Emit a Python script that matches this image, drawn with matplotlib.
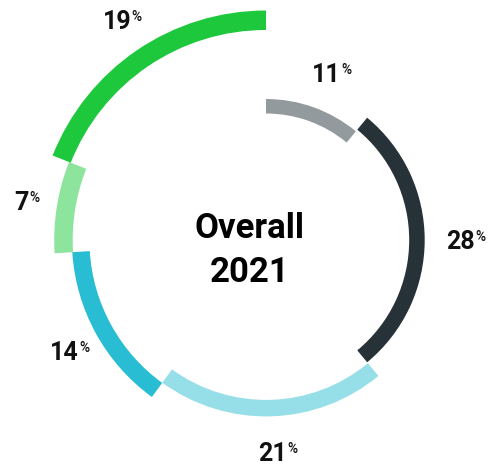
import numpy as np
import matplotlib.pyplot as plt
from matplotlib.patches import Wedge

# shares per segment, clockwise from 12 o'clock
values = [11, 28, 21, 14, 7, 19]
labels = ['11', '28', '21', '14', '7', '19']
colors = ['#939a9e', '#263238', '#96dfe8', '#29bdd3', '#8de49c', '#1ec83c']
center_text = ['Overall', '2021']

plt.rcParams['font.family'] = ['Roboto', 'DejaVu Sans']

fig = plt.figure(figsize=(4.92, 4.70), dpi=100)
ax = fig.add_axes([0, 0, 1, 1])
ax.set_xlim(0, 492)
ax.set_ylim(0, 470)
ax.axis('off')

cx, cy = 266, 230
total = sum(values)
ends = np.cumsum(values) / total * 360
starts = ends - np.array(values) / total * 360

for i, (lab, col) in enumerate(zip(labels, colors)):
    # each segment steps outwards a bit (spiral look)
    r_out = 141 + 17.7 * i
    w = 14.5 + i
    a0, a1 = starts[i], ends[i]
    ax.add_patch(Wedge((cx, cy), r_out, 90 - a1, 90 - a0, width=w,
                       facecolor=col, edgecolor='none'))

    mid = np.deg2rad((a0 + a1) / 2)
    r_lab = r_out + 36
    x = cx + r_lab * np.sin(mid)
    y = cy + r_lab * np.cos(mid)
    t = ax.text(x, y - 9, lab, ha='center', va='baseline', fontsize=18,
                fontweight='bold', color='#111111')
    ax.annotate('%', xy=(1, 1), xycoords=t, xytext=(0.5, 0),
                textcoords='offset points', ha='left', va='top',
                fontsize=10, fontweight='medium', color='#111111')

ax.text(250, 241, center_text[0], ha='center', va='center', fontsize=25,
        fontweight='bold', color='black')
ax.text(250, 198, center_text[1], ha='center', va='center', fontsize=25,
        fontweight='bold', color='black')

fig.savefig('out.png', dpi=100)
